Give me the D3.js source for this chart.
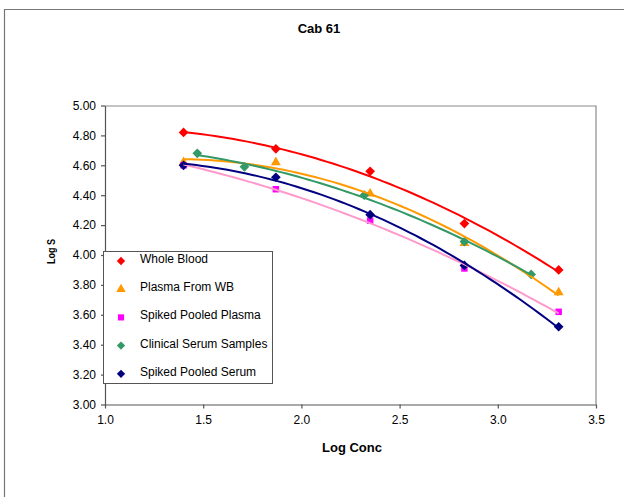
<!DOCTYPE html>
<html>
<head>
<meta charset="utf-8">
<script src="https://cdn.jsdelivr.net/npm/d3@7"></script>
<style>
    body { margin: 0; background: #fff; }
    svg text { font-family: "Liberation Sans", Arial, sans-serif; fill: #000; }
</style>
</head>
<body>
<div id="chart"></div>
<script>

// Data (Log Conc vs Log S)
const seriesNames = ["Whole Blood", "Plasma From WB", "Spiked Pooled Plasma", "Clinical Serum Samples", "Spiked Pooled Serum"];

const wholeBloodX = [1.40, 1.87, 2.35, 2.83, 3.31];
const wholeBloodY = [4.82, 4.71, 4.56, 4.21, 3.90];

const plasmaWbX = [1.40, 1.87, 2.35, 2.83, 3.31];
const plasmaWbY = [4.62, 4.62, 4.41, 4.08, 3.75];

const spikedPlasmaX = [1.40, 1.87, 2.35, 2.83, 3.31];
const spikedPlasmaY = [4.60, 4.44, 4.23, 3.91, 3.62];

const clinicalSerumX = [1.47, 1.71, 2.32, 2.83, 3.17];
const clinicalSerumY = [4.68, 4.59, 4.40, 4.09, 3.87];

const spikedSerumX = [1.40, 1.87, 2.35, 2.83, 3.31];
const spikedSerumY = [4.60, 4.52, 4.27, 3.93, 3.52];

const xTicks = [1.0, 1.5, 2.0, 2.5, 3.0, 3.5];
const yTicks = [3.0, 3.2, 3.4, 3.6, 3.8, 4.0, 4.2, 4.4, 4.6, 4.8, 5.0];

class curveVis {

    constructor(parentElement) {
        this.parentElement = parentElement;
        this.initVis();
    }

    initVis() {
        let vis = this;

        vis.margin = {top: 105.5, left: 105, right: 28, bottom: 92.5};
        vis.width = 624 - vis.margin.left - vis.margin.right;
        vis.height = 497 - vis.margin.top - vis.margin.bottom;

        vis.root = d3.select("#" + vis.parentElement).append("svg")
            .attr("width", 624)
            .attr("height", 497);

        // outer chart border (only left and top show in the crop)
        vis.root.append("path")
            .attr("d", "M4.5,500 V9.5 H630")
            .attr("fill", "none")
            .attr("stroke", "#777")
            .attr("stroke-width", 1.2);

        vis.root.append("text")
            .attr("x", 319)
            .attr("y", 33)
            .attr("text-anchor", "middle")
            .attr("font-weight", "bold")
            .attr("font-size", "13px")
            .text("Cab 61");

        vis.svg = vis.root.append("g")
            .attr("transform", `translate(${vis.margin.left}, ${vis.margin.top})`);

        vis.x = d3.scaleLinear().domain([1.0, 3.5]).range([0, vis.width]);
        vis.y = d3.scaleLinear().domain([3.0, 5.0]).range([vis.height, 0]);

        // plot area frame (top / right)
        vis.svg.append("path")
            .attr("d", `M0,0.5 H${vis.width} V${vis.height}`)
            .attr("fill", "none")
            .attr("stroke", "#8a8a8a")
            .attr("stroke-width", 1.2);

        vis.xAxis = d3.axisBottom(vis.x).tickValues(xTicks).tickFormat(d3.format(".1f")).tickSizeInner(4).tickSizeOuter(0).tickPadding(7);
        vis.yAxis = d3.axisLeft(vis.y).tickValues(yTicks).tickFormat(d3.format(".2f")).tickSizeInner(4).tickSizeOuter(0).tickPadding(5);

        vis.svg.append("g")
            .attr("class", "x-axis axis")
            .attr("transform", `translate(0, ${vis.height})`)
            .call(vis.xAxis);

        vis.svg.append("g")
            .attr("class", "y-axis axis")
            .call(vis.yAxis);

        vis.svg.selectAll(".axis path, .axis line")
            .attr("stroke", "#555")
            .attr("stroke-width", 1.2);
        vis.svg.selectAll(".axis text")
            .attr("font-size", "12px")
            .attr("font-family", "Liberation Sans, Arial, sans-serif");

        // axis titles
        vis.root.append("text")
            .attr("x", 352)
            .attr("y", 451.5)
            .attr("text-anchor", "middle")
            .attr("font-weight", "bold")
            .attr("font-size", "13px")
            .text("Log Conc");

        vis.root.append("text")
            .attr("transform", "translate(55, 251.5) rotate(-90)")
            .attr("text-anchor", "middle")
            .attr("font-weight", "bold")
            .attr("font-size", "11px")
            .attr("textLength", 25)
            .attr("lengthAdjust", "spacingAndGlyphs")
            .text("Log S");

        vis.wrangleData();
    }

    wrangleData() {
        let vis = this;

        let xs = [wholeBloodX, plasmaWbX, spikedPlasmaX, clinicalSerumX, spikedSerumX];
        let ys = [wholeBloodY, plasmaWbY, spikedPlasmaY, clinicalSerumY, spikedSerumY];
        let markerColors = ["#ff0000", "#ff9900", "#ff00ff", "#339966", "#000080"];
        let lineColors = ["#ff0000", "#ff9900", "#ff99cc", "#339966", "#000080"];
        let shapes = [d3.symbolDiamond2, d3.symbolTriangle, d3.symbolSquare, d3.symbolDiamond2, d3.symbolDiamond2];

        vis.series = seriesNames.map(function (name, i) {
            let points = xs[i].map(function (x, j) { return {x: x, y: ys[i][j]}; });
            return {
                name: name,
                points: points,
                fit: vis.quadFit(points),
                marker: markerColors[i],
                line: lineColors[i],
                shape: shapes[i]
            };
        });

        vis.updateVis();
    }

    // Excel style 2nd order polynomial trendline (least squares)
    quadFit(points) {
        let s = [0, 0, 0, 0, 0], t = [0, 0, 0];
        points.forEach(function (p) {
            for (let k = 0; k <= 4; k++) s[k] += Math.pow(p.x, k);
            for (let k = 0; k <= 2; k++) t[k] += p.y * Math.pow(p.x, k);
        });
        let m = [[s[0], s[1], s[2], t[0]], [s[1], s[2], s[3], t[1]], [s[2], s[3], s[4], t[2]]];
        for (let i = 0; i < 3; i++) {
            for (let r = i + 1; r < 3; r++) {
                let f = m[r][i] / m[i][i];
                for (let c = i; c < 4; c++) m[r][c] -= f * m[i][c];
            }
        }
        let c = [0, 0, 0];
        for (let i = 2; i >= 0; i--) {
            let v = m[i][3];
            for (let j = i + 1; j < 3; j++) v -= m[i][j] * c[j];
            c[i] = v / m[i][i];
        }
        let x0 = d3.min(points, d => d.x), x1 = d3.max(points, d => d.x);
        return d3.range(0, 61).map(function (k) {
            let x = x0 + (x1 - x0) * k / 60;
            return {x: x, y: c[0] + c[1] * x + c[2] * x * x};
        });
    }

    updateVis() {
        let vis = this;

        let line = d3.line()
            .x(d => vis.x(d.x))
            .y(d => vis.y(d.y))
            .curve(d3.curveLinear);

        vis.series.forEach(function (s, i) {
            vis.svg.selectAll(".marker-" + i)
                .data(s.points)
                .enter().append("path")
                .attr("class", "marker-" + i)
                .attr("transform", d => `translate(${vis.x(d.x)}, ${vis.y(d.y)})`)
                .attr("d", d3.symbol().type(s.shape).size(s.shape === d3.symbolDiamond2 ? 60 : 42))
                .attr("fill", s.marker);
        });

        vis.series.forEach(function (s) {
            vis.svg.append("path")
                .attr("d", line(s.fit))
                .attr("fill", "none")
                .attr("stroke", s.line)
                .attr("stroke-width", 2);
        });

        // legend
        let legend = vis.root.append("g")
            .attr("transform", "translate(103, 251)");

        legend.append("rect")
            .attr("x", 0.5)
            .attr("y", 0.5)
            .attr("width", 169)
            .attr("height", 132)
            .attr("fill", "#fff")
            .attr("stroke", "#555")
            .attr("stroke-width", 1);

        let rows = legend.selectAll(".legend-row")
            .data(vis.series)
            .enter().append("g")
            .attr("class", "legend-row")
            .attr("transform", (d, i) => `translate(0, ${9 + i * 28.2})`);

        rows.append("path")
            .attr("transform", "translate(18, 1)")
            .attr("d", d => d3.symbol().type(d.shape).size(d.shape === d3.symbolDiamond2 ? 44 : 38)())
            .attr("fill", d => d.marker);

        rows.append("text")
            .attr("x", 37)
            .attr("y", 3)
            .attr("font-size", "12px")
            .text(d => d.name);
    }
}

new curveVis("chart");

</script>
</body>
</html>
